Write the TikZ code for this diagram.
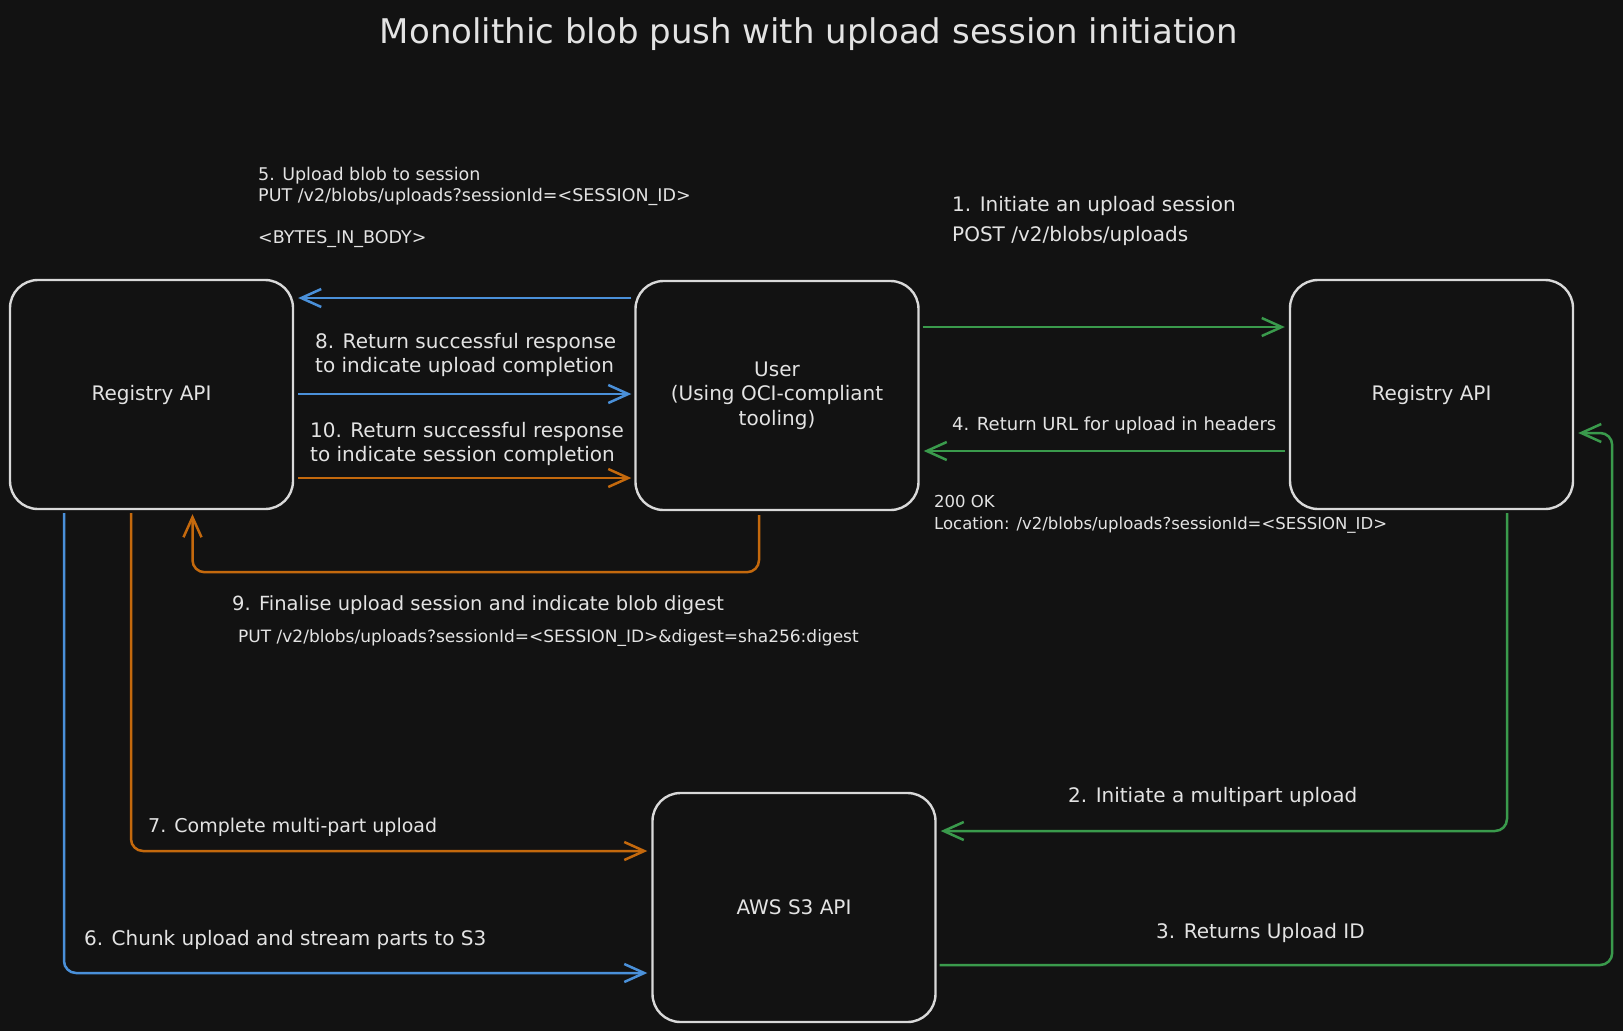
\documentclass[tikz,border=0pt]{standalone}
\usepackage{fontspec}
\setmainfont{DejaVu Sans}
\usetikzlibrary{arrows.meta,calc}
\definecolor{bg}{HTML}{121212}
\definecolor{boxline}{HTML}{D9D9D9}
\definecolor{txt}{HTML}{E3E3E3}
\definecolor{cblue}{HTML}{4A90D9}
\definecolor{cgreen}{HTML}{3A9A4C}
\definecolor{corange}{HTML}{C4690D}
\begin{document}
\begin{tikzpicture}[x=1pt,y=-1pt,
  box/.style={draw=boxline, line width=2.4pt, fill=bg, rounded corners=28pt,
    minimum width=283pt, minimum height=229pt, inner sep=0pt, text=txt,
    font=\fontsize{20}{24.5}\selectfont, align=center},
  conn/.style={line width=2.5pt, rounded corners=12pt,
    -{Straight Barb[length=20pt,width=18pt]}},
  bluearr/.style={conn, draw=cblue},
  greenarr/.style={conn, draw=cgreen},
  orangearr/.style={conn, draw=corange},
  lbl/.style={text=txt, inner sep=0pt, align=left}]

\fill[bg] (0,0) rectangle (1623,1031);
\useasboundingbox (0,0) rectangle (1623,1031);

\node[lbl, font=\fontsize{34}{40}\selectfont, anchor=base] (title) at (809,43)
  {Monolithic blob push with upload session initiation};

\node[box] (L) at (151.5,394.5) {Registry API};
\node[box] (U) at (777,395.5) {User\\(Using OCI-compliant\\tooling)};
\node[box] (R) at (1431.5,394.5) {Registry API};
\node[box] (S) at (794,907.5) {AWS S3 API};

% straight arrows
\draw[bluearr] ($(U.west)+(-3,-97.5)$) -- ($(L.east)+(4,-96.5)$);
\draw[bluearr] ($(L.east)+(4,-0.5)$) -- ($(U.west)+(-3,-1.5)$);
\draw[orangearr] ($(L.east)+(4,83.5)$) -- ($(U.west)+(-3,82.5)$);
\draw[greenarr] ($(U.east)+(3,-68.5)$) -- ($(R.west)+(-4,-67.5)$);
\draw[greenarr] ($(R.west)+(-4,56.5)$) -- ($(U.east)+(4,55.5)$);

% elbow arrows
\draw[orangearr] ($(U.south)+(-18,4)$) |- ($(L.south)+(41,62)$) -- ($(L.south)+(41,4)$);
\draw[bluearr] ($(L.south)+(-87.5,3)$) |- ($(S.west)+(-4,65.5)$);
\draw[orangearr] ($(L.south)+(-20.5,3)$) |- ($(S.west)+(-4,-56.5)$);
\draw[greenarr] ($(R.south)+(75.5,3)$) |- ($(S.east)+(4,-76.5)$);
\draw[greenarr] ($(S.east)+(3,57.5)$) -| ($(R.east)+(38,38.5)$) -- ($(R.east)+(4,38.5)$);

% labels
\node[lbl, font=\fontsize{17.5}{21}\selectfont, anchor=north west] (t5) at (258,166.7)
  {5. Upload blob to session\\PUT /v2/blobs/uploads?sessionId=<SESSION\_ID>\\[21pt]<BYTES\_IN\_BODY>};
\node[lbl, font=\fontsize{20}{30}\selectfont, anchor=north west] (t1) at (952,195.8)
  {1. Initiate an upload session\\POST /v2/blobs/uploads};
\node[lbl, font=\fontsize{18}{22}\selectfont, anchor=base west] (t4) at (952,430)
  {4. Return URL for upload in headers};
\node[lbl, font=\fontsize{16.5}{22}\selectfont, anchor=north west] (t200) at (934,495)
  {200 OK\\Location: /v2/blobs/uploads?sessionId=<SESSION\_ID>};
\node[lbl, font=\fontsize{20}{24}\selectfont, anchor=north west] (t8) at (315,332.8)
  {8. Return successful response\\to indicate upload completion};
\node[lbl, font=\fontsize{20}{24}\selectfont, anchor=north west] (t10) at (310,421.8)
  {10. Return successful response\\to indicate session completion};
\node[lbl, font=\fontsize{19.5}{24}\selectfont, anchor=base west] (t9) at (232,610)
  {9. Finalise upload session and indicate blob digest};
\node[lbl, font=\fontsize{17}{21}\selectfont, anchor=base west] (t9b) at (238,642)
  {PUT /v2/blobs/uploads?sessionId=<SESSION\_ID>\&digest=sha256:digest};
\node[lbl, font=\fontsize{19}{23}\selectfont, anchor=base west] (t7) at (148,832)
  {7. Complete multi-part upload};
\node[lbl, font=\fontsize{20}{24}\selectfont, anchor=base west] (t2) at (1068,802)
  {2. Initiate a multipart upload};
\node[lbl, font=\fontsize{20}{24}\selectfont, anchor=base west] (t3) at (1156,938)
  {3. Returns Upload ID};
\node[lbl, font=\fontsize{20}{24}\selectfont, anchor=base west] (t6) at (84,945)
  {6. Chunk upload and stream parts to S3};
\end{tikzpicture}
\end{document}
